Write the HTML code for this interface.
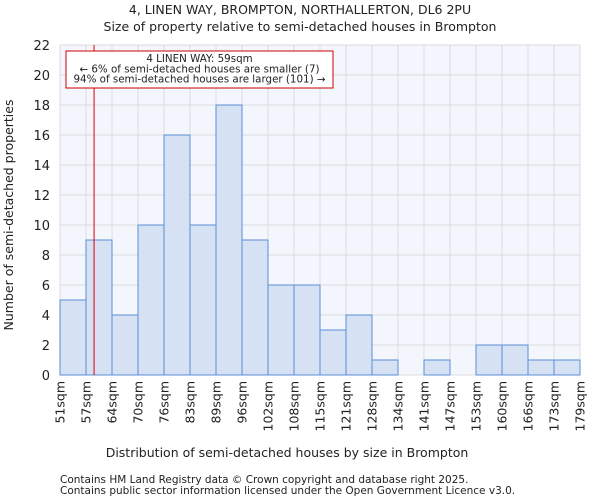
<!DOCTYPE html>
<html><head><meta charset="utf-8"><style>
body{margin:0;background:#fff;font-family:"DejaVu Sans","Liberation Sans",sans-serif}
svg text{font-family:"DejaVu Sans","Liberation Sans",sans-serif;fill:#222}
</style></head><body>
<svg id="chart" width="600" height="500" viewBox="0 0 600 500" xmlns="http://www.w3.org/2000/svg">
<text x="300" y="14" text-anchor="middle" font-size="12.5">4, LINEN WAY, BROMPTON, NORTHALLERTON, DL6 2PU</text>
<text x="300" y="31" text-anchor="middle" font-size="12.5">Size of property relative to semi-detached houses in Brompton</text>
<rect x="60" y="45" width="520" height="330" fill="#f3f6fd"/>
<g id="grid"></g>
<g id="bars"></g>
<g id="yaxis"></g>
<g id="xaxis"></g>
<text transform="translate(13,215) rotate(-90)" text-anchor="middle" font-size="12.5">Number of semi-detached properties</text>
<text x="287" y="457" text-anchor="middle" font-size="12.5">Distribution of semi-detached houses by size in Brompton</text>
<g id="marker"></g>
<text x="60" y="483" font-size="10.5" fill="#555">Contains HM Land Registry data © Crown copyright and database right 2025.</text>
<text x="60" y="494" font-size="10.5" fill="#555">Contains public sector information licensed under the Open Government Licence v3.0.</text>
</svg>
<script>
const categories=["51sqm","57sqm","64sqm","70sqm","76sqm","83sqm","89sqm","96sqm","102sqm","108sqm","115sqm","121sqm","128sqm","134sqm","141sqm","147sqm","153sqm","160sqm","166sqm","173sqm","179sqm"];
const counts=[5,9,4,10,16,10,18,9,6,6,3,4,1,0,1,0,2,2,1,1];
const yTicks=[0,2,4,6,8,10,12,14,16,18,20,22];
const propertyBinPos=[1.31];
const annotationLines=["4 LINEN WAY: 59sqm","\u2190 6% of semi-detached houses are smaller (7)","94% of semi-detached houses are larger (101) \u2192"];
const NS="http://www.w3.org/2000/svg";
const X0=60,X1=580,Y0=375,Y1=45,YMAX=22;
const bw=(X1-X0)/counts.length;
const xs=i=>X0+i*bw;
const ys=v=>Y0-(v/YMAX)*(Y0-Y1);
function mk(t,a,p){const e=document.createElementNS(NS,t);for(const k in a)e.setAttribute(k,a[k]);p.appendChild(e);return e;}
const grid=document.getElementById('grid');
for(let i=0;i<=counts.length;i++){const l=mk('line',{x1:xs(i),x2:xs(i),y1:Y1,y2:Y0,stroke:'#dcdcdc','stroke-width':1},grid);

}
yTicks.forEach(v=>{const l=mk('line',{x1:X0,x2:X1,y1:ys(v),y2:ys(v),stroke:'#dcdcdc','stroke-width':1},grid);

});
const bars=document.getElementById('bars');
counts.forEach((c,i)=>{if(c<=0)return;const r=mk('rect',{x:xs(i),y:ys(c),width:bw,height:Y0-ys(c),fill:'#d6e1f3',stroke:'#5b8fd6','stroke-width':1},bars);

});
const ya=document.getElementById('yaxis');
yTicks.forEach(v=>{const t=mk('text',{x:X0-10,y:ys(v)+5,'text-anchor':'end','font-size':13},ya);t.textContent=v;

});
const xa=document.getElementById('xaxis');
categories.forEach((c,i)=>{const x=xs(i)+4.5;const t=mk('text',{transform:`translate(${x},381) rotate(-90)`,'text-anchor':'end','font-size':12.5},xa);t.textContent=c;

});
const m=document.getElementById('marker');
const mx=xs(propertyBinPos[0]);
const ml=mk('line',{x1:mx,x2:mx,y1:Y1,y2:Y0,stroke:'#dd0000','stroke-width':1},m);


const box=mk('rect',{x:66,y:51,width:267,height:37,fill:'#fff',stroke:'#cc0000','stroke-width':1},m);


annotationLines.forEach((s,i)=>{const t=mk('text',{x:199.5,y:62+i*10.3,'text-anchor':'middle','font-size':10.3},m);t.textContent=s;

});
</script>
</body></html>
